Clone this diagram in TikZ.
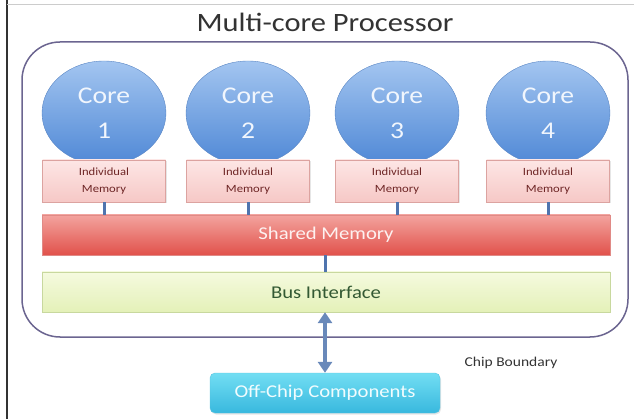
\documentclass[tikz,border=0pt]{standalone}
\usepackage{fontspec}
\setmainfont[FakeStretch=1.15]{Carlito}
\usetikzlibrary{shapes.geometric,arrows.meta,shadows}
\definecolor{coretop}{HTML}{A3C5F0}
\definecolor{corebot}{HTML}{4F88D6}
\definecolor{coreline}{HTML}{5A86C4}
\definecolor{memtop}{HTML}{FDE6E5}
\definecolor{membot}{HTML}{F6C8C6}
\definecolor{memline}{HTML}{DCA3A0}
\definecolor{shtop}{HTML}{F3A39E}
\definecolor{shbot}{HTML}{E1524B}
\definecolor{shline}{HTML}{E08A86}
\definecolor{bustop}{HTML}{F5FADF}
\definecolor{busbot}{HTML}{E4F1B8}
\definecolor{busline}{HTML}{C8D89E}
\definecolor{offtop}{HTML}{72DEF3}
\definecolor{offbot}{HTML}{38B8DE}
\definecolor{offline}{HTML}{5CC4E0}
\definecolor{linkblue}{HTML}{4F74AE}
\definecolor{chipline}{HTML}{6B6590}
\begin{document}
\begin{tikzpicture}
		[x=1pt,y=-1pt,
		core/.style={ellipse,draw=coreline,top color=coretop,bottom color=corebot,
inner sep=0pt,minimum width=124pt,minimum height=104pt,align=center,
text=white!85!coretop,font=\fontsize{24}{35}\selectfont},
		mem/.style={rectangle,draw=memline,top color=memtop,bottom color=membot,
inner sep=0pt,minimum width=123pt,minimum height=42pt,align=center,
text=black!60!red!70!gray,font=\fontsize{11}{17}\selectfont,
drop shadow={opacity=0.2,shadow xshift=1pt,shadow yshift=-1.5pt}},
		bar/.style={rectangle,inner sep=0pt,minimum width=568pt,minimum height=40pt,
font=\fontsize{18}{20}\selectfont},
		link/.style={-,draw=linkblue,line width=3pt},
		textstyle/.style={text=black!80}]
		\useasboundingbox (0,0) rectangle (634,419);
		\draw[black!80,line width=2pt] (7,0) -- (7,419);
		\draw[black!20] (7,4) -- (634,4);
		\node at (325,32) (title) [textstyle,anchor=base,font=\fontsize{26.5}{30}\selectfont] {Multi-core Processor};
		\node at (325,189.5) (chip) [draw=chipline,line width=1.5pt,rounded corners=38pt,
minimum width=606pt,minimum height=295pt] {};
		\node at (104,113) (core1) [core] {Core\\1};
		\node at (248,113) (core2) [core] {Core\\2};
		\node at (397,113) (core3) [core] {Core\\3};
		\node at (548,113) (core4) [core] {Core\\4};
		\node at (104,181) (mem1) [mem] {Individual\\Memory};
		\node at (248,181) (mem2) [mem] {Individual\\Memory};
		\node at (397,181) (mem3) [mem] {Individual\\Memory};
		\node at (548,181) (mem4) [mem] {Individual\\Memory};
		\node at (326,235) (shared) [bar,draw=shline,top color=shtop,bottom color=shbot,
text=white!85!shtop] {Shared Memory};
		\node at (326,292) (bus) [bar,draw=busline,top color=bustop,bottom color=busbot,
text=black!75!green!60!gray] {Bus Interface};
		\node at (325,393) (off) [rectangle,draw=offline,top color=offtop,bottom color=offbot,
rounded corners=5pt,inner sep=0pt,minimum width=230pt,minimum height=40pt,
text=white!90!offtop,font=\fontsize{18}{20}\selectfont,
drop shadow={opacity=0.2,shadow xshift=1pt,shadow yshift=-1.5pt}] {Off-Chip Components};
		\node at (511,363) (boundary) [textstyle,font=\fontsize{13.5}{15}\selectfont] {Chip Boundary};
		\draw[link] (mem1.south) -- (mem1.south |- shared.north);
		\draw[link] (mem2.south) -- (mem2.south |- shared.north);
		\draw[link] (mem3.south) -- (mem3.south |- shared.north);
		\draw[link] (mem4.south) -- (mem4.south |- shared.north);
		\draw[link] (shared.south -| off.north) -- (bus.north -| off.north);
		\draw[{Triangle[width=14pt,length=11pt]}-{Triangle[width=14pt,length=11pt]},
draw=linkblue!85!white,fill=linkblue!85!white,line width=3.5pt] (bus.south -| off.north) -- (off.north);
	\end{tikzpicture}
\end{document}
